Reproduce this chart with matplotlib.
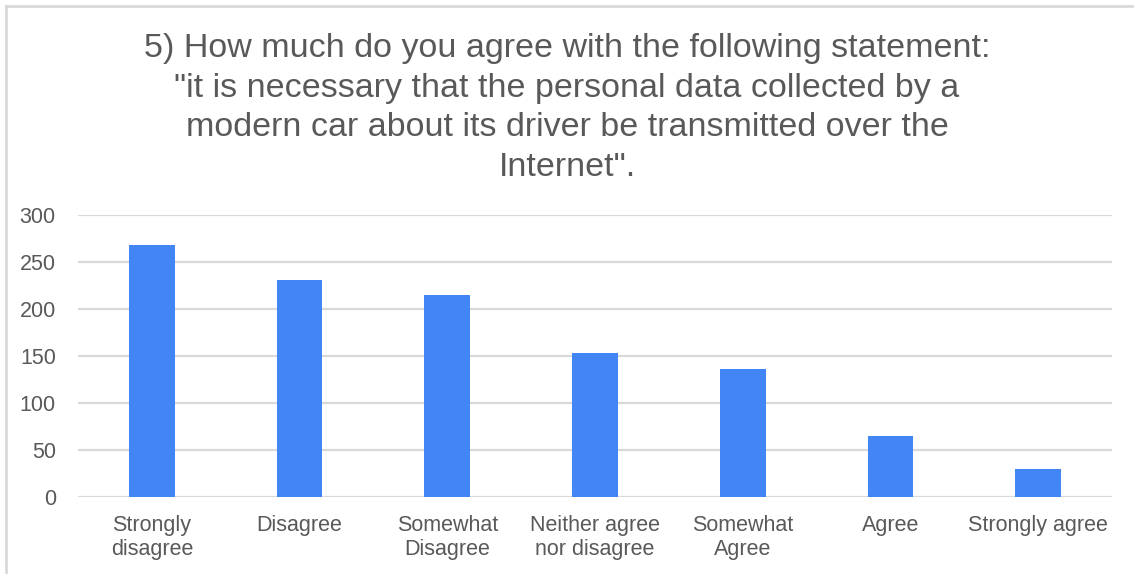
import numpy as np
from matplotlib import pyplot as plt
from matplotlib.lines import Line2D

# data
categories = ['Strongly\ndisagree', 'Disagree', 'Somewhat\nDisagree',
              'Neither agree\nnor disagree', 'Somewhat\nAgree', 'Agree',
              'Strongly agree']
counts = [268, 231, 215, 154, 136, 65, 30]
yticks = [0, 50, 100, 150, 200, 250, 300]

title = ('5) How much do you agree with the following statement:\n'
         '"it is necessary that the personal data collected by a\n'
         'modern car about its driver be transmitted over the\n'
         'Internet".')

plt.rcParams['font.family'] = ['Liberation Sans', 'DejaVu Sans']
text_color = '#595959'

fig = plt.figure(figsize=(11.34, 5.74), dpi=100)
ax = fig.add_axes([78 / 1134, 76.7 / 574, 1034 / 1134, 282 / 574])

x = np.arange(len(categories))
ax.bar(x, counts, width=0.31, color='#4285F4', zorder=3)

ax.set_xlim(-0.5, len(categories) - 0.5)
ax.set_ylim(0, 300)
ax.set_yticks(yticks)
ax.set_xticks(x)
ax.set_xticklabels(categories, fontsize=15.5, color=text_color, linespacing=1.15)
ax.tick_params(axis='y', labelsize=15.5, labelcolor=text_color, length=0, pad=16)
ax.tick_params(axis='x', length=0, pad=13)
ax.grid(axis='y', color='#D9D9D9', linewidth=1.6, zorder=0)
for s in ax.spines.values():
    s.set_visible(False)

fig.text(0.5, 1 - 108 / 574, title, ha='center', va='center', fontsize=24.5,
         color=text_color, linespacing=1.36)

# outer frame (top and left edge)
fig.add_artist(Line2D([6 / 1134, 1], [1 - 6 / 574, 1 - 6 / 574], color='#D9D9D9', lw=2))
fig.add_artist(Line2D([6 / 1134, 6 / 1134], [0, 1 - 6 / 574], color='#D9D9D9', lw=2))

fig.savefig('out.png', dpi=100, facecolor='white')
